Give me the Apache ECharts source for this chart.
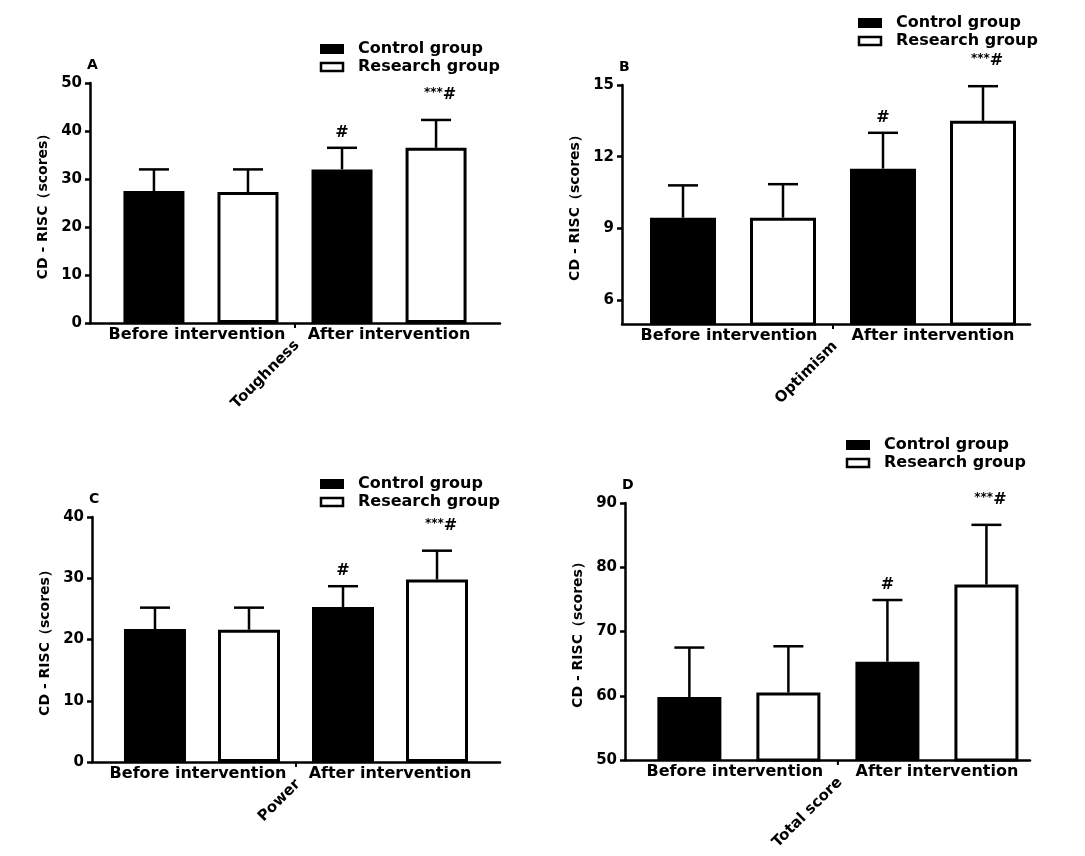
<!DOCTYPE html>
<html><head><meta charset="utf-8">
<script src="https://cdn.jsdelivr.net/npm/echarts@6/dist/echarts.min.js"></script>
<style>html,body{margin:0;background:#fff}#c{width:1085px;height:856px}</style>
</head><body><div id="c"></div>
<script>
const groups = ['Before intervention', 'After intervention'];
const legendNames = ['Control group', 'Research group'];
const panelLetters = ['A', 'B', 'C', 'D'];
const panelNames = ['Toughness', 'Optimism', 'Power', 'Total score'];
const meansA = [27.5, 27.3, 32.0, 36.5];
const errsA  = [4.5, 4.7, 4.5, 5.8];
const meansB = [9.45, 9.45, 11.5, 13.5];
const errsB  = [1.35, 1.4, 1.5, 1.45];
const meansC = [21.7, 21.6, 25.3, 29.8];
const errsC  = [3.5, 3.6, 3.4, 4.7];
const meansD = [59.8, 60.5, 65.3, 77.3];
const errsD  = [7.7, 7.2, 9.6, 9.3];
const marks = ['', '', '#', '***#'];

const F = '"DejaVu Sans", Arial, sans-serif';
const panels = [
  {means: meansA, errs: errsA, grid: {left: 90, top: 83, width: 410, height: 240}, x: [0.32, 4.68], y: {min: 0, max: 50, interval: 10}, bw: 61, lg: [320, 42]},
  {means: meansB, errs: errsB, grid: {left: 622, top: 85, width: 408, height: 239}, x: [0.39, 4.47], y: {min: 5, max: 15, ticks: [6, 9, 12, 15]}, bw: 66, lg: [858, 16]},
  {means: meansC, errs: errsC, grid: {left: 92, top: 517, width: 408, height: 245}, x: [0.33, 4.67], y: {min: 0, max: 40, interval: 10}, bw: 62, lg: [320, 477]},
  {means: meansD, errs: errsD, grid: {left: 625, top: 503, width: 405, height: 257}, x: [0.35, 4.44], y: {min: 50, max: 90, interval: 10}, bw: 64, lg: [846, 438]}
];
const chart = echarts.init(document.getElementById('c'));
const grid = [], xAxis = [], yAxis = [], series = [];
panels.forEach((p, i) => {
  grid.push(p.grid);
  xAxis.push({type: 'value', gridIndex: i, min: p.x[0], max: p.x[1], splitLine: {show: false},
    axisLine: {show: true, onZero: false, lineStyle: {color: '#000', width: 2.5}}, axisTick: {show: false}, axisLabel: {show: false}});
  const ya = {type: 'value', gridIndex: i, min: p.y.min, max: p.y.max, splitLine: {show: false},
    name: 'CD - RISC（scores）', nameLocation: 'middle', nameGap: 40, nameTextStyle: {fontFamily: F, fontWeight: 'bold', fontSize: 14, color: '#000'},
    axisLine: {show: true, lineStyle: {color: '#000', width: 2.5}},
    axisTick: {show: true, inside: false, length: 5, lineStyle: {width: 2.5}},
    axisLabel: {fontFamily: F, fontWeight: 'bold', fontSize: 15, color: '#000', margin: 8}};
  if (p.y.ticks) { ya.axisLabel.customValues = p.y.ticks; ya.axisTick.customValues = p.y.ticks; }
  else ya.interval = p.y.interval;
  yAxis.push(ya);
  series.push({type: 'bar', xAxisIndex: i, yAxisIndex: i, barWidth: p.bw, silent: true,
    data: p.means.map((v, k) => ({value: [k + 1, v], itemStyle: k % 2 === 0 ? {color: '#000'} : {color: '#fff', borderColor: '#000', borderWidth: 3}}))});
  series.push({type: 'custom', xAxisIndex: i, yAxisIndex: i, silent: true,
    data: p.means.map((v, k) => [k + 1, v, v + p.errs[k], k]),
    renderItem: (params, api) => {
      const b = api.coord([api.value(0), api.value(1)]);
      const t = api.coord([api.value(0), api.value(2)]);
      const k = api.value(3);
      const ch = [
        {type: 'line', shape: {x1: b[0], y1: b[1], x2: t[0], y2: t[1]}, style: {stroke: '#000', lineWidth: 2.5}},
        {type: 'line', shape: {x1: t[0] - 15, y1: t[1], x2: t[0] + 15, y2: t[1]}, style: {stroke: '#000', lineWidth: 2.5}}
      ];
      if (marks[k] === '#') ch.push({type: 'text', style: {x: t[0], y: t[1] - 15, text: '#', align: 'center', verticalAlign: 'middle', font: 'bold 16px ' + F, fill: '#000'}});
      if (marks[k] === '***#') ch.push({type: 'text', style: {x: t[0] + 4, y: t[1] - 25, text: '{s|***}{h|#}', align: 'center', verticalAlign: 'middle', rich: {s: {font: 'bold 12px ' + F, fill: '#000', padding: [0,0,4,0]}, h: {font: 'bold 16px ' + F, fill: '#000'}}}});
      return {type: 'group', children: ch};
    }});
});
chart.setOption({animation: false, grid, xAxis, yAxis, series});

const graphic = [];
panels.forEach((p, i) => {
  const g = p.grid;
  const bottom = g.top + g.height;
  graphic.push({type: 'text', left: g.left - 3, top: g.top - 25, style: {text: panelLetters[i], font: 'bold 14px ' + F, fill: '#000'}});
  const c1 = chart.convertToPixel({xAxisIndex: i}, 1.5);
  const c2 = chart.convertToPixel({xAxisIndex: i}, 3.5);
  const mid = chart.convertToPixel({xAxisIndex: i}, 2.5);
  graphic.push({type: 'text', x: c1 - 4, y: bottom + 12, style: {text: groups[0], align: 'center', verticalAlign: 'middle', font: 'bold 16px ' + F, fill: '#000'}});
  graphic.push({type: 'text', x: c2, y: bottom + 12, style: {text: groups[1], align: 'center', verticalAlign: 'middle', font: 'bold 16px ' + F, fill: '#000'}});
  graphic.push({type: 'line', shape: {x1: mid, y1: bottom, x2: mid, y2: bottom + 5}, style: {stroke: '#000', lineWidth: 2}});
  graphic.push({type: 'text', x: mid + 2, y: bottom + 20, rotation: Math.PI / 4, style: {text: panelNames[i], align: 'right', verticalAlign: 'middle', font: 'bold 15px ' + F, fill: '#000'}});
  const [lx, ly] = p.lg;
  graphic.push({type: 'rect', shape: {x: lx, y: ly + 2, width: 24, height: 10}, style: {fill: '#000'}});
  graphic.push({type: 'rect', shape: {x: lx + 1, y: ly + 21, width: 22, height: 8}, style: {fill: '#fff', stroke: '#000', lineWidth: 2.5}});
  graphic.push({type: 'text', x: lx + 38, y: ly + 7, style: {text: legendNames[0], verticalAlign: 'middle', font: 'bold 16px ' + F, fill: '#000'}});
  graphic.push({type: 'text', x: lx + 38, y: ly + 25, style: {text: legendNames[1], verticalAlign: 'middle', font: 'bold 16px ' + F, fill: '#000'}});
});
chart.setOption({graphic});
</script></body></html>
